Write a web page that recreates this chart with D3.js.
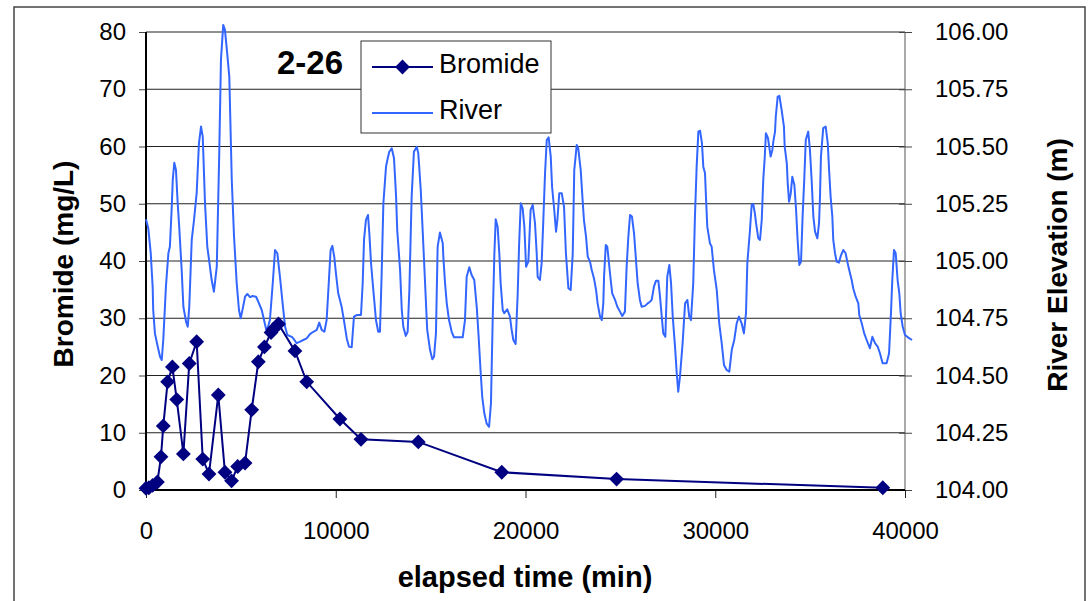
<!DOCTYPE html>
<html><head><meta charset="utf-8">
<script src="https://cdn.jsdelivr.net/npm/d3@7"></script>
<style>body{margin:0;background:#fff} text{font-family:"Liberation Sans",Arial,sans-serif}</style>
</head><body><svg id="c" width="1092" height="601"></svg>
<script>
// ---------- data ----------
const chartTitle = "2-26";
const seriesNames = ["Bromide", "River"];
const xTitle = "elapsed time (min)";
const yLeftTitle = "Bromide (mg/L)";
const yRightTitle = "River Elevation (m)";

const xTicks = [0, 10000, 20000, 30000, 40000];
const leftTicks = [0, 10, 20, 30, 40, 50, 60, 70, 80];
const rightTicks = [104.00, 104.25, 104.50, 104.75, 105.00, 105.25, 105.50, 105.75, 106.00];

const bromideTime = [0, 150, 350, 600, 790, 910, 1140, 1390, 1620, 1970, 2280, 2670, 2990, 3320, 3810, 4160, 4510, 4830, 5220, 5570, 5920, 6240, 6590, 6710, 6980, 7850, 8470, 10220, 11330, 14350, 18750, 24800, 38830];
const bromideConc = [0.3, 0.4, 0.8, 1.4, 5.8, 11.2, 18.9, 21.5, 15.8, 6.3, 22.1, 25.9, 5.4, 2.8, 16.6, 3.1, 1.6, 4.1, 4.7, 14.0, 22.4, 25.0, 27.5, 28.1, 29.0, 24.3, 18.9, 12.4, 8.85, 8.4, 3.1, 1.9, 0.4];

const riverTime = [0,120,250,350,380,470,600,740,830,910,1050,1180,1260,1350,1410,1490,1580,1670,1750,1880,1970,2110,2200,2280,2410,2530,2670,2790,2900,2990,3110,3230,3370,3460,3580,3730,3860,3950,4070,4160,4280,4390,4520,4640,4780,4900,4990,5100,5220,5340,5480,5620,5800,5920,6100,6220,6360,6530,6680,6800,6920,7060,7200,7330,7450,7680,
7760,7940,8120,8290,8470,8640,8820,9000,9130,9260,9400,9520,9640,9730,9820,9920,10010,10130,10310,10430,10580,10700,10840,10960,11100,11330,11420,11490,11590,11700,11770,11860,11980,12120,12240,12330,12420,12510,12650,12740,12820,12950,13070,13180,13240,13390,13480,13560,13690,13790,13880,14000,14120,14270,14350,14480,14580,14700,14820,14970,15090,15180,15280,15370,15490,15640,
15670,15760,15850,15970,16110,16230,16690,16810,16900,17040,17160,17300,17430,17530,17640,17720,17830,17950,18080,18180,18270,18360,18430,18530,18620,18690,18800,18880,19040,19180,19270,19360,19480,19590,19660,19750,19850,19940,20030,20150,20270,20380,20500,20590,20640,20760,20850,20940,21030,21120,21220,21330,21400,21500,21610,21680,21780,21910,22030,22130,22260,22380,22490,22570,22700,22780,22910,23010,23080,23190,23280,23400,
23490,23610,23720,23800,23930,24020,24100,24140,24230,24310,24400,24490,24570,24720,24840,24980,25100,25240,25330,25420,25510,25610,25720,25810,25910,26030,26120,26300,26440,26560,26650,26770,26880,27000,27090,27180,27260,27370,27470,27580,27670,27760,27880,27970,28050,28140,28280,28410,28530,28630,28720,28840,28930,29020,29110,29200,29300,29370,29460,29510,29580,29720,29810,29930,30080,30210,30340,30460,30600,30740,30870,31000,31130,31250,
31390,31510,31620,31690,31830,31920,32000,32090,32150,32270,32360,32450,32530,32610,32670,32780,32920,33010,33060,33150,33190,33290,33380,33500,33620,33660,33770,33820,33890,33980,34060,34170,34260,34340,34430,34520,34610,34690,34770,34900,34990,35080,35170,35260,35380,35470,35520,35570,35690,35820,35930,36000,36080,36170,36220,36310,36400,36520,36630,36750,36870,36960,37060,37190,37270,37400,37540,37590,37720,37850,37980,38150,38280,38420,38560,38680,38820,39030,39160,39260,39330,39420,39510,39610,39700,39770,39880,40000,40230,40370];

const riverElev = [105.182,105.143,105.034,104.888,104.786,104.684,104.633,104.582,104.568,104.655,104.888,105.034,105.063,105.223,105.354,105.429,105.397,105.252,105.150,104.961,104.800,104.735,104.713,104.800,105.092,105.179,105.296,105.514,105.587,105.543,105.252,105.063,104.975,104.917,104.866,104.975,105.470,105.878,106.031,106.009,105.907,105.805,105.354,105.106,104.903,104.786,104.750,104.793,104.844,104.856,104.842,104.847,104.844,104.822,104.786,104.742,104.691,104.742,104.903,105.048,105.034,104.931,104.815,104.713,104.677,104.669,
104.662,104.641,104.648,104.655,104.662,104.681,104.691,104.699,104.731,104.699,104.691,104.742,104.917,105.048,105.066,105.019,104.946,104.859,104.800,104.742,104.662,104.626,104.623,104.757,104.764,104.764,104.903,105.092,105.179,105.201,105.121,104.990,104.873,104.742,104.691,104.691,104.946,105.252,105.412,105.449,105.477,105.492,105.449,105.281,105.135,104.961,104.786,104.713,104.673,104.691,104.873,105.281,105.477,105.499,105.470,105.310,105.135,104.917,104.699,104.611,104.571,104.582,104.684,105.063,105.124,105.077,
105.019,104.903,104.815,104.742,104.691,104.667,104.667,104.742,104.931,104.973,104.939,104.917,104.800,104.669,104.510,104.407,104.335,104.291,104.276,104.379,104.742,105.034,105.182,105.150,105.034,104.903,104.786,104.772,104.789,104.757,104.699,104.655,104.638,104.859,105.063,105.252,105.230,105.150,104.975,104.997,105.223,105.245,105.165,105.034,104.931,104.917,104.990,105.179,105.383,105.528,105.540,105.456,105.325,105.237,105.128,105.179,105.296,105.296,105.237,105.034,104.881,104.873,105.034,105.397,105.507,105.492,105.397,105.266,105.179,105.106,105.019,104.997,
104.961,104.924,104.873,104.815,104.757,104.742,104.815,104.931,105.070,105.063,104.990,104.917,104.859,104.830,104.800,104.779,104.760,104.779,104.975,105.106,105.201,105.194,105.121,105.019,104.903,104.830,104.800,104.804,104.815,104.822,104.830,104.888,104.914,104.914,104.844,104.757,104.684,104.669,104.931,104.983,104.903,104.757,104.626,104.510,104.429,104.495,104.641,104.815,104.830,104.757,104.742,104.903,105.194,105.412,105.565,105.569,105.514,105.412,105.383,105.281,105.150,105.077,105.063,104.961,104.873,104.728,104.641,104.546,104.524,104.517,104.611,104.655,104.728,104.757,
104.728,104.684,104.772,104.990,105.135,105.245,105.249,105.208,105.165,105.099,105.092,105.179,105.354,105.456,105.558,105.536,105.456,105.485,105.521,105.565,105.630,105.718,105.721,105.659,105.587,105.499,105.427,105.339,105.259,105.296,105.368,105.332,105.223,105.092,104.983,104.997,105.208,105.354,105.528,105.565,105.485,105.354,105.194,105.128,105.099,105.165,105.281,105.456,105.580,105.587,105.514,105.397,105.281,105.194,105.092,105.034,104.997,104.993,105.026,105.048,105.034,104.997,104.961,104.917,104.881,104.844,104.815,104.764,104.728,104.684,104.655,104.619,104.669,104.641,104.626,104.597,104.553,104.553,104.597,104.772,104.917,105.048,105.034,104.917,104.859,104.772,104.713,104.677,104.662,104.655];

// ---------- drawing ----------
const FONT = '"Liberation Sans", Arial, sans-serif';
const navy = "#000080", blue = "#3366FF";
const svg = d3.select("#c");
svg.append("rect").attr("width", 1092).attr("height", 601).attr("fill", "#fff");
svg.append("rect").attr("x", 14).attr("y", 7).attr("width", 1071).attr("height", 620)
  .attr("fill", "none").attr("stroke", "#444").attr("stroke-width", 1.5);

const x = d3.scaleLinear().domain([0, 40000]).range([146, 905]);
const yL = d3.scaleLinear().domain([0, 80]).range([490, 32]);
const yR = d3.scaleLinear().domain([104, 106]).range([490, 32]);

// gridlines
svg.append("g").selectAll("line").data(leftTicks.filter(d => d > 0)).join("line")
  .attr("x1", x(0)).attr("x2", x(40000))
  .attr("y1", d => yL(d)).attr("y2", d => yL(d))
  .attr("stroke", "#222").attr("stroke-width", 1);

// left axis
const gL = svg.append("g").attr("transform", `translate(${x(0)},0)`)
  .call(d3.axisLeft(yL).tickValues(leftTicks).tickSize(7).tickPadding(13).tickFormat(d3.format("d")));
gL.attr("font-size", 24).attr("font-family", FONT);
gL.select(".domain").remove();
gL.selectAll(".tick line").attr("stroke", "#444");
gL.selectAll("text").attr("fill", "#000");

// right axis
const gR = svg.append("g").attr("transform", `translate(${x(40000)},0)`)
  .call(d3.axisRight(yR).tickValues(rightTicks).tickSize(7).tickPadding(23).tickFormat(d3.format(".2f")));
gR.attr("font-size", 24).attr("font-family", FONT);
gR.select(".domain").remove();
gR.selectAll(".tick line").attr("x1", -6).attr("stroke", "#444");
gR.selectAll("text").attr("fill", "#000");

// bottom axis
const gB = svg.append("g").attr("transform", `translate(0,${yL(0)})`)
  .call(d3.axisBottom(x).tickValues(xTicks).tickSize(8).tickPadding(24).tickFormat(d3.format("d")));
gB.attr("font-size", 24).attr("font-family", FONT);
gB.select(".domain").remove();
gB.selectAll(".tick line").attr("stroke", "#222");
gB.selectAll("text").attr("fill", "#000");

// axis lines
svg.append("line").attr("x1", x(40000)).attr("x2", x(40000)).attr("y1", yL(80)).attr("y2", yL(0)).attr("stroke", "#555").attr("stroke-width", 1);
svg.append("line").attr("x1", x(0)).attr("x2", x(0)).attr("y1", yL(80)).attr("y2", yL(0) + 1).attr("stroke", "#000").attr("stroke-width", 2);
svg.append("line").attr("x1", x(0) - 1).attr("x2", x(40000)).attr("y1", yL(0)).attr("y2", yL(0)).attr("stroke", "#000").attr("stroke-width", 2);

// river series (secondary axis)
const riverData = riverTime.map((t, i) => [t, riverElev[i]]);
svg.append("path").datum(riverData)
  .attr("d", d3.line().x(d => x(d[0])).y(d => yR(d[1])))
  .attr("fill", "none").attr("stroke", blue).attr("stroke-width", 2).attr("stroke-linejoin", "round");

// bromide series
const bromData = bromideTime.map((t, i) => [t, bromideConc[i]]);
svg.append("path").datum(bromData)
  .attr("d", d3.line().x(d => x(d[0])).y(d => yL(d[1])))
  .attr("fill", "none").attr("stroke", navy).attr("stroke-width", 2);
const diamond = d3.symbol(d3.symbolSquare, 110);
svg.append("g").selectAll("path").data(bromData).join("path")
  .attr("d", diamond)
  .attr("transform", d => `translate(${x(d[0])},${yL(d[1])}) rotate(45)`)
  .attr("fill", navy);

// title
svg.append("text").attr("x", 277).attr("y", 73.5).attr("font-size", 33).attr("font-weight", "bold")
  .attr("font-family", FONT).text(chartTitle);

// legend
const lg = svg.append("g");
lg.append("rect").attr("x", 361).attr("y", 41).attr("width", 190).attr("height", 92)
  .attr("fill", "#fff").attr("stroke", "#333").attr("stroke-width", 1);
lg.append("line").attr("x1", 372).attr("x2", 433).attr("y1", 67).attr("y2", 67).attr("stroke", navy).attr("stroke-width", 2);
lg.append("path").attr("d", diamond).attr("transform", "translate(402.5,67) rotate(45)").attr("fill", navy);
lg.append("line").attr("x1", 372).attr("x2", 433).attr("y1", 113).attr("y2", 113).attr("stroke", blue).attr("stroke-width", 2);
lg.append("text").attr("x", 439).attr("y", 73).attr("font-size", 27).attr("font-family", FONT).text(seriesNames[0]);
lg.append("text").attr("x", 439).attr("y", 119).attr("font-size", 27).attr("font-family", FONT).text(seriesNames[1]);

// axis titles
svg.append("text").attr("x", 525).attr("y", 587).attr("text-anchor", "middle")
  .attr("font-size", 29).attr("font-weight", "bold").attr("font-family", FONT).text(xTitle);
svg.append("text").attr("transform", "translate(73,264) rotate(-90)").attr("text-anchor", "middle")
  .attr("font-size", 28).attr("font-weight", "bold").attr("font-family", FONT).text(yLeftTitle);
svg.append("text").attr("transform", "translate(1067,265) rotate(-90)").attr("text-anchor", "middle")
  .attr("font-size", 28).attr("font-weight", "bold").attr("font-family", FONT).text(yRightTitle);
</script></body></html>
